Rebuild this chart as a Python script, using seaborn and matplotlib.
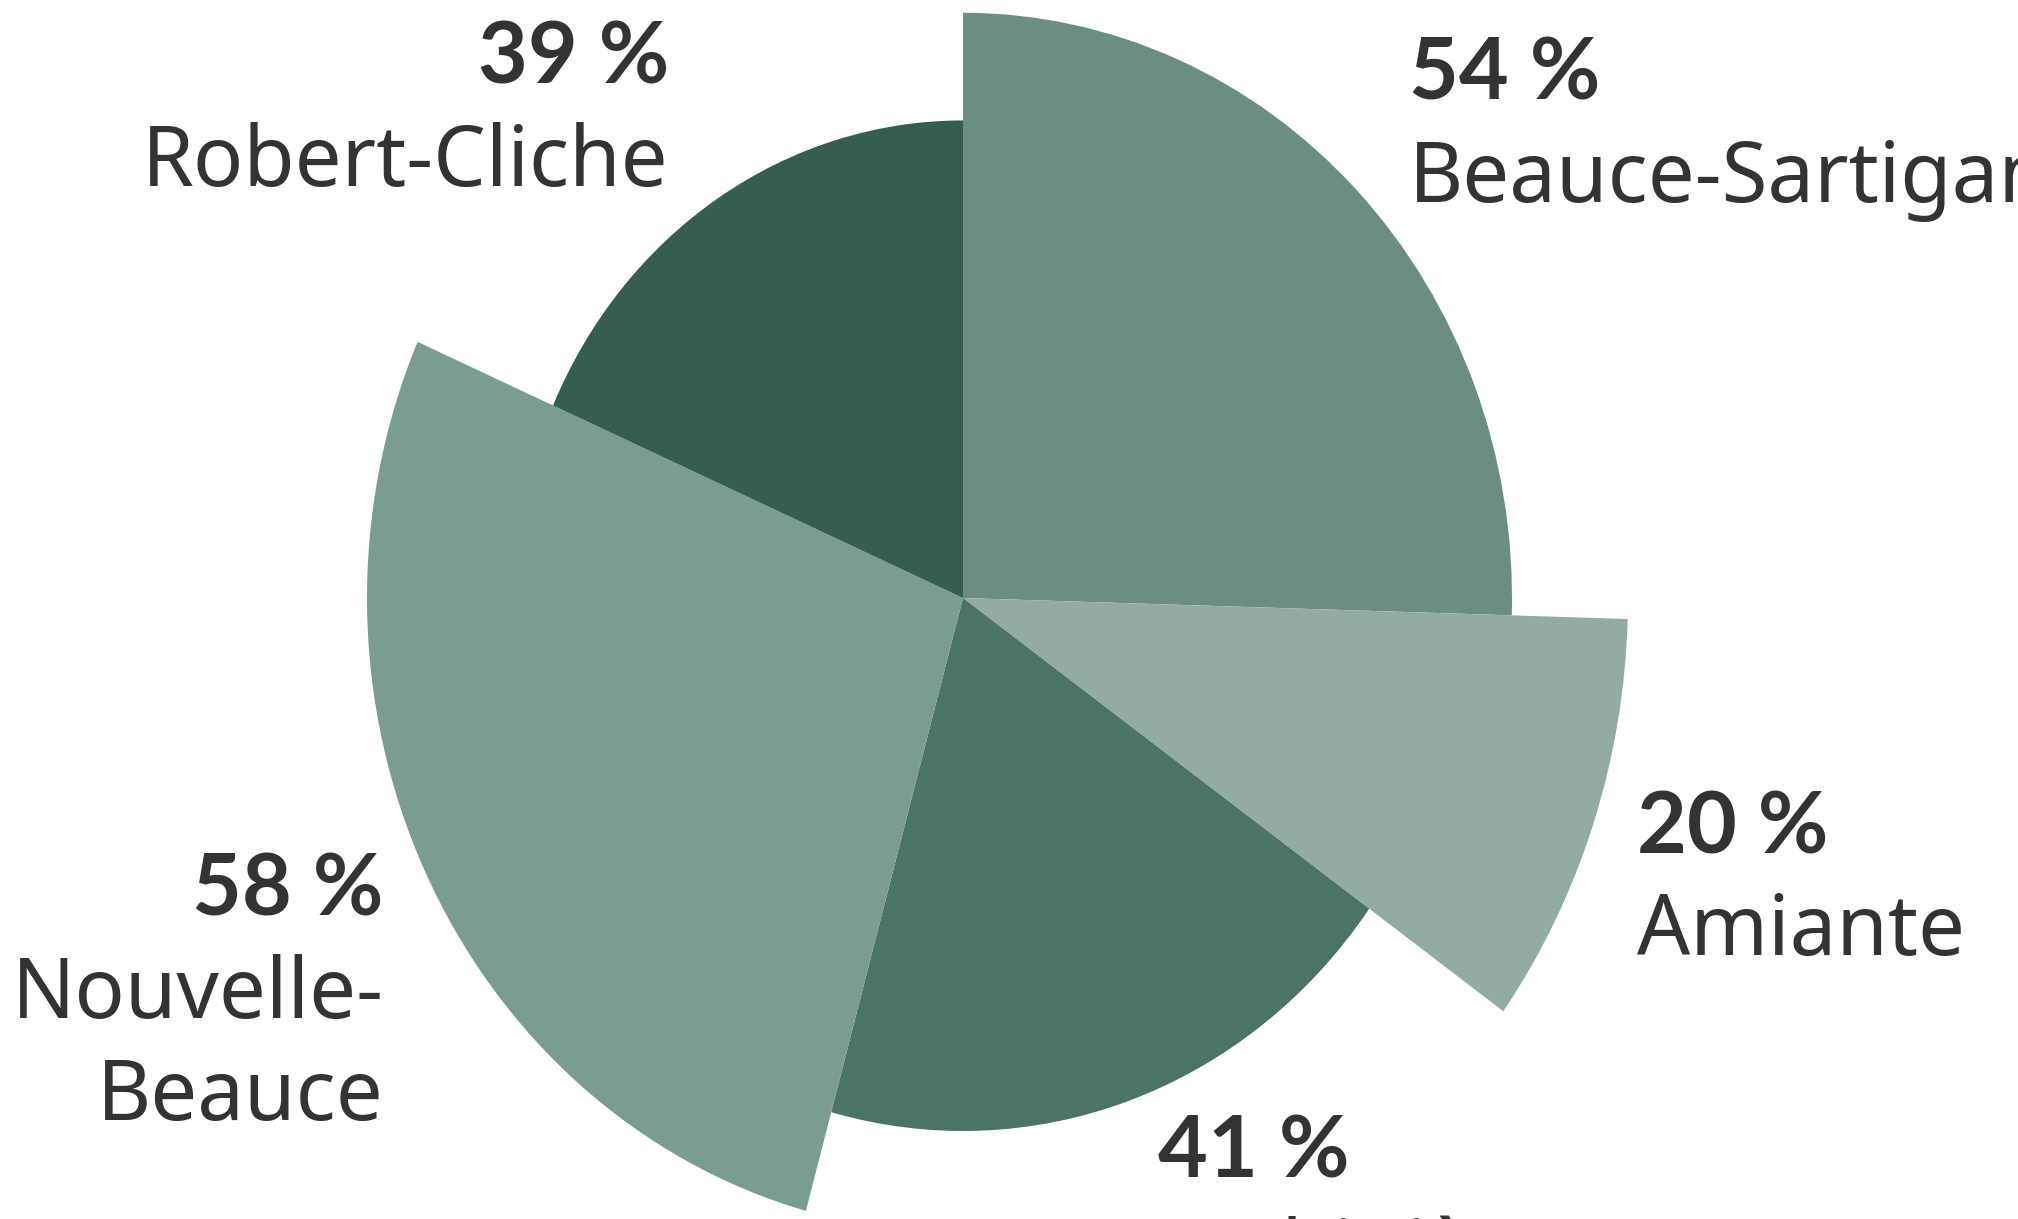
import numpy as np
import matplotlib
matplotlib.use("Agg")
import matplotlib.pyplot as plt
import seaborn as sns

# data (clockwise from 12 o'clock)
regions = ["Beauce-Sartigan", "Amiante", "Lotbinière", "Nouvelle-\nBeauce", "Robert-Cliche"]
shares = [54, 20, 41, 58, 39]          # percent, sets the angle of each slice
radii = [549, 665, 500, 596, 448]      # relative slice length, as drawn
colors = ["#6b8e80", "#93aca2", "#4b7465", "#7b9c90", "#355e50"]

sns.set_theme(style="white")
plt.rcParams['font.family'] = ['Noto Sans', 'DejaVu Sans']

W, H = 2018, 1219
fig = plt.figure(figsize=(W / 100, H / 100), dpi=100)

# polar axes, stretched a little vertically like the original
cx, cy = 963, 598
rlim = 700
stretch = 1.066
ax = fig.add_axes([(cx - rlim) / W, (H - cy - rlim * stretch) / H,
                   2 * rlim / W, 2 * rlim * stretch / H], projection="polar")
ax.set_aspect("auto")
ax.set_theta_zero_location("N")
ax.set_theta_direction(-1)

widths = np.array(shares) / sum(shares) * 2 * np.pi
lefts = np.concatenate([[0], np.cumsum(widths)[:-1]])
ax.bar(lefts, radii, width=widths, align="edge", color=colors, edgecolor="none", linewidth=0)
ax.set_ylim(0, rlim)
ax.set_axis_off()

# labels: (x px, baseline y px from top, alignment)
label_pos = [(1409, 100, "left"), (1637, 853, "left"), (1158, 1178, "left"),
             (384, 916, "right"), (669, 84, "right")]
line_gap = 102
for name, val, (x, y, ha) in zip(regions, shares, label_pos):
    fig.text(x / W, 1 - y / H, f"{val} %", ha=ha, va="baseline",
             fontsize=62, fontweight="bold", color="#333333",
             family=["Lato", "DejaVu Sans"])
    for i, line in enumerate(name.split("\n")):
        fig.text(x / W, 1 - (y + line_gap * (i + 1)) / H, line, ha=ha, va="baseline",
                 fontsize=60, color="#333333")

fig.savefig("out.png", dpi=100, facecolor="white")
